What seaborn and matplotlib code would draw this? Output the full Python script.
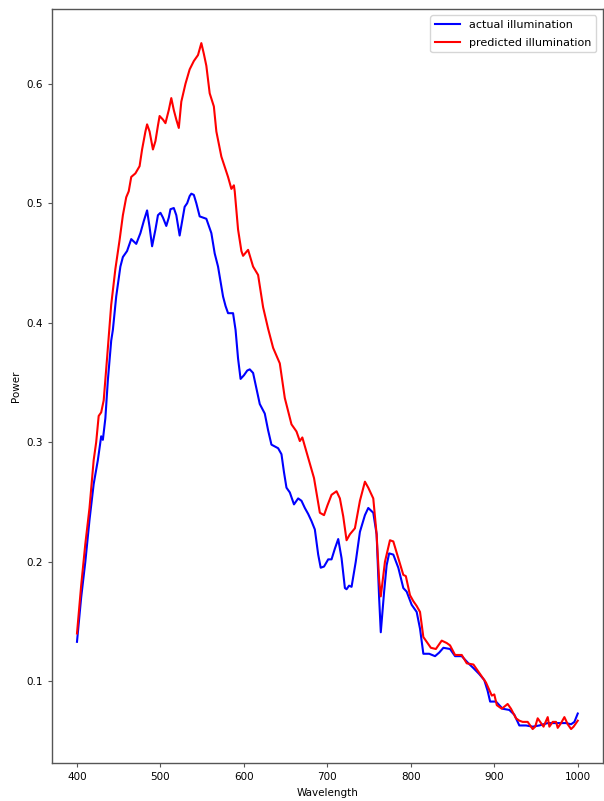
import matplotlib
matplotlib.use("Agg")
import matplotlib.pyplot as plt
import pandas as pd
import seaborn as sns

# values
actual_wl = [400, 405, 410, 415, 420, 425, 429, 431, 434, 437, 441, 443, 447, 452, 455, 460,
             465, 468, 471, 476, 480, 484, 487, 490, 494, 497, 500, 503, 507, 510, 512, 516,
             519, 523, 526, 529, 532, 535, 537, 540, 543, 547, 555, 561, 565, 569, 575, 578,
             581, 587, 590, 593, 596, 600, 604, 607, 611, 615, 619, 625, 629, 633, 641, 645,
             648, 651, 655, 660, 665, 669, 673, 677, 681, 685, 689, 692, 696, 701, 705, 709,
             713, 717, 721, 723, 726, 729, 734, 739, 745, 749, 755, 759, 762, 764, 768, 771,
             774, 779, 785, 791, 795, 801, 807, 811, 815, 822, 829, 834, 839, 847, 853, 861,
             869, 875, 882, 888, 892, 895, 902, 910, 918, 924, 930, 938, 946, 954, 964, 974,
             986, 992, 996, 1000]
actual_pw = [0.133, 0.170, 0.200, 0.235, 0.265, 0.285, 0.305, 0.302, 0.320, 0.352, 0.385, 0.394,
             0.422, 0.447, 0.455, 0.460, 0.470, 0.468, 0.466, 0.475, 0.485, 0.494, 0.480, 0.464,
             0.478, 0.490, 0.492, 0.488, 0.481, 0.488, 0.495, 0.496, 0.490, 0.473, 0.485, 0.497,
             0.500, 0.506, 0.508, 0.507, 0.500, 0.489, 0.487, 0.475, 0.458, 0.447, 0.422, 0.414,
             0.408, 0.408, 0.394, 0.370, 0.353, 0.356, 0.360, 0.361, 0.358, 0.345, 0.332, 0.324,
             0.310, 0.298, 0.295, 0.290, 0.275, 0.262, 0.258, 0.248, 0.253, 0.251, 0.245, 0.240,
             0.234, 0.227, 0.206, 0.195, 0.196, 0.202, 0.202, 0.211, 0.219, 0.203, 0.178, 0.177,
             0.180, 0.179, 0.200, 0.225, 0.239, 0.245, 0.241, 0.223, 0.170, 0.141, 0.175, 0.197,
             0.207, 0.206, 0.195, 0.178, 0.175, 0.164, 0.158, 0.144, 0.123, 0.123, 0.121, 0.124,
             0.128, 0.127, 0.121, 0.121, 0.115, 0.111, 0.106, 0.101, 0.092, 0.083, 0.083, 0.077,
             0.076, 0.072, 0.063, 0.063, 0.062, 0.063, 0.065, 0.065, 0.065, 0.064, 0.066, 0.073]

pred_wl = [400, 405, 410, 415, 420, 423, 426, 429, 432, 436, 441, 446, 451, 455, 459, 462,
           465, 470, 475, 478, 482, 484, 487, 491, 494, 497, 499, 503, 506, 510, 513, 516,
           519, 522, 525, 530, 535, 540, 545, 549, 552, 555, 559, 564, 567, 573, 581, 585,
           588, 589, 593, 597, 599, 605, 611, 617, 623, 629, 635, 643, 649, 657, 663, 667,
           670, 677, 684, 691, 696, 700, 705, 711, 715, 719, 723, 727, 733, 739, 745, 749,
           755, 759, 762, 764, 769, 775, 779, 785, 791, 794, 799, 803, 807, 811, 815, 818,
           824, 830, 837, 843, 847, 853, 861, 867, 875, 884, 890, 897, 900, 903, 909, 916,
           920, 926, 930, 934, 940, 946, 949, 952, 956, 959, 964, 966, 970, 974, 976, 980,
           984, 988, 992, 995, 1000]
pred_pw = [0.140, 0.180, 0.215, 0.245, 0.285, 0.300, 0.322, 0.325, 0.335, 0.370, 0.415, 0.445,
           0.469, 0.490, 0.505, 0.510, 0.522, 0.525, 0.531, 0.545, 0.560, 0.566, 0.560, 0.545,
           0.552, 0.565, 0.573, 0.570, 0.567, 0.578, 0.588, 0.578, 0.570, 0.563, 0.585, 0.600,
           0.612, 0.619, 0.624, 0.634, 0.625, 0.615, 0.592, 0.581, 0.560, 0.539, 0.522, 0.512,
           0.515, 0.510, 0.478, 0.460, 0.456, 0.461, 0.447, 0.440, 0.413, 0.395, 0.379, 0.366,
           0.337, 0.315, 0.309, 0.301, 0.304, 0.287, 0.270, 0.241, 0.239, 0.247, 0.256, 0.259,
           0.253, 0.238, 0.218, 0.223, 0.228, 0.251, 0.267, 0.262, 0.253, 0.223, 0.185, 0.171,
           0.200, 0.218, 0.217, 0.203, 0.189, 0.188, 0.172, 0.167, 0.163, 0.158, 0.137, 0.134,
           0.128, 0.127, 0.134, 0.132, 0.130, 0.122, 0.122, 0.115, 0.114, 0.105, 0.099, 0.088,
           0.089, 0.080, 0.077, 0.081, 0.077, 0.069, 0.067, 0.066, 0.066, 0.060, 0.062, 0.069,
           0.065, 0.062, 0.070, 0.062, 0.066, 0.066, 0.061, 0.065, 0.070, 0.064, 0.060, 0.062,
           0.067]

actual = pd.DataFrame({'Wavelength': actual_wl, 'Power': actual_pw})
pred = pd.DataFrame({'Wavelength': pred_wl, 'Power': pred_pw})

plt.rcParams['font.size'] = 7.5

fig = plt.figure(figsize=(6.04, 8.01), dpi=100)
ax = fig.add_axes([0.086, 0.047, 0.912, 0.942])

sns.lineplot(data=actual, x='Wavelength', y='Power', color='blue', label='actual illumination', ax=ax)
sns.lineplot(data=pred, x='Wavelength', y='Power', color='red', label='predicted illumination', ax=ax)

ax.set_xlabel('Wavelength', fontsize=7.5)
ax.set_ylabel('Power', fontsize=7.5)
ax.tick_params(labelsize=7.5, length=3, color='#555555')
for s in ax.spines.values():
    s.set_color('#555555')
    s.set_linewidth(1.0)
ax.legend(loc='upper right', fontsize=8, labelspacing=0.7, handlelength=2.3,
          borderaxespad=0.6)

fig.savefig('out.png', dpi=100)
